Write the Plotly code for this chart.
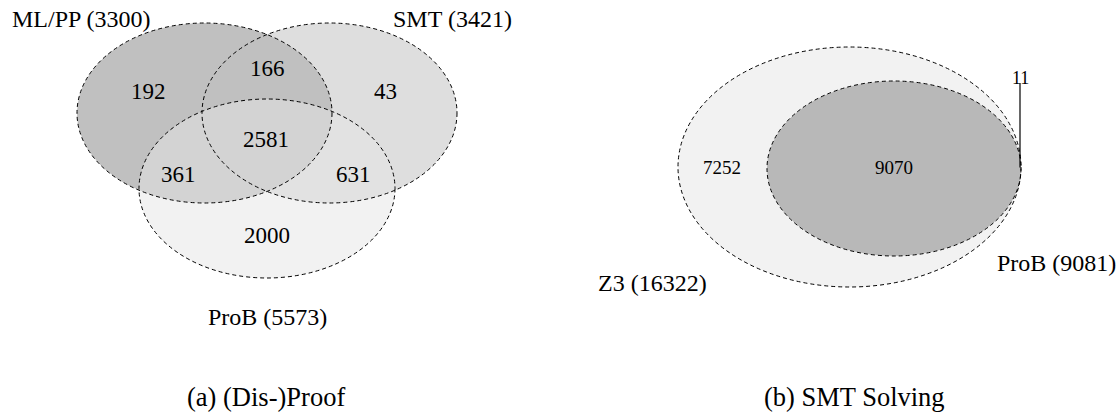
import plotly.graph_objects as go

# ---------------- data ----------------
# (a) (Dis-)Proof : three-set Venn
sets_a = ["ML/PP", "SMT", "ProB"]
totals_a = [3300, 3421, 5573]
regions_a = ["ML/PP only", "ML/PP∩SMT", "SMT only", "all", "ML/PP∩ProB", "SMT∩ProB", "ProB only"]
counts_a = [192, 166, 43, 2581, 361, 631, 2000]

# (b) SMT Solving : two-set Venn
sets_b = ["Z3", "ProB"]
totals_b = [16322, 9081]
regions_b = ["Z3 only", "both", "ProB only"]
counts_b = [7252, 9070, 11]

captions = ["(a) (Dis-)Proof", "(b) SMT Solving"]

# ---------------- layout (geometry in pixel-like axis units) ----------------
W, H = 1119, 415
FONT = "Liberation Serif"

# ellipses: (cx, cy, rx, ry, fill)
ell_a = [
    (329.5, 113, 127.5, 90, "#dedede"),            # SMT
    (204.5, 113, 127.5, 90, "#c0c0c0"),            # ML/PP
    (267.0, 188.5, 128, 89.5, "rgba(229,229,229,0.5)"),  # ProB
]
ell_b = [
    (849.5, 167, 171.5, 120, "#f2f2f2"),           # Z3
    (894.0, 168.5, 127, 87.5, "#b8b8b8"),          # ProB
]

set_label_pos_a = [(80.5, 19), (452.5, 19), (267, 317)]
region_pos_a = [(148, 91), (267, 68), (385, 91), (266, 139), (178, 174), (353, 174), (267, 235)]
set_label_pos_b = [(652, 283), (1056, 263)]
region_pos_b = [(722, 167), (894, 167), (1020, 78)]
caption_pos = [(266, 397), (854, 397)]

fig = go.Figure()
fig.add_trace(go.Scatter(x=[0, W], y=[0, H], mode="markers",
                         marker=dict(opacity=0), hoverinfo="skip", showlegend=False))

shapes = []
for cx, cy, rx, ry, fill in ell_a + ell_b:
    shapes.append(dict(type="circle", xref="x", yref="y",
                       x0=cx - rx, x1=cx + rx, y0=cy - ry, y1=cy + ry,
                       fillcolor=fill, line=dict(width=0), layer="below"))
for cx, cy, rx, ry, fill in ell_a + ell_b:
    shapes.append(dict(type="circle", xref="x", yref="y",
                       x0=cx - rx, x1=cx + rx, y0=cy - ry, y1=cy + ry,
                       fillcolor="rgba(0,0,0,0)",
                       line=dict(color="black", width=1, dash="4px,3px"), layer="above"))
lx, ly = region_pos_b[2]
prob_cy = ell_b[1][1]
shapes.append(dict(type="line", xref="x", yref="y",
                   x0=lx, x1=lx, y0=ly + 5, y1=prob_cy - 1,
                   line=dict(color="black", width=1.2)))

ann = []
def txt(x, y, s, size):
    ann.append(dict(x=x, y=y, xref="x", yref="y", text=s, showarrow=False,
                    font=dict(family=FONT, size=size, color="black"),
                    xanchor="center", yanchor="middle"))

for (x, y), n, t in zip(set_label_pos_a, sets_a, totals_a):
    txt(x, y, f"{n} ({t})", 24)
for (x, y), c in zip(region_pos_a, counts_a):
    txt(x, y, str(c), 23)
for (x, y), n, t in zip(set_label_pos_b, sets_b, totals_b):
    txt(x, y, f"{n} ({t})", 24)
for i, ((x, y), c) in enumerate(zip(region_pos_b, counts_b)):
    txt(x, y, str(c), 19 if i < 2 else 18)
for (x, y), c in zip(caption_pos, captions):
    txt(x, y, c, 26.5)

fig.update_layout(
    width=W, height=H,
    margin=dict(l=0, r=0, t=0, b=0),
    paper_bgcolor="white", plot_bgcolor="white",
    xaxis=dict(range=[0, W], visible=False, fixedrange=True),
    yaxis=dict(range=[H, 0], visible=False, fixedrange=True),
    shapes=shapes, annotations=ann, showlegend=False,
    hovermode=False,
)
fig.write_html("out.html",
               config={"displayModeBar": False, "staticPlot": True},
               post_script="document.body.style.margin='0';document.body.style.overflow='hidden';")
